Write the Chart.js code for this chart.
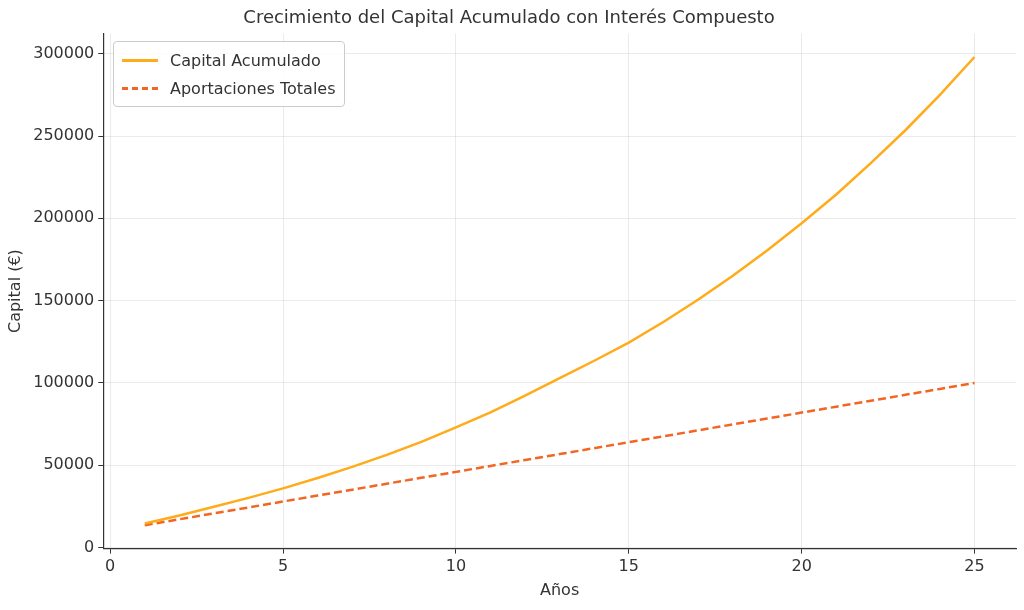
<!DOCTYPE html>
<html>
<head>
<meta charset="utf-8">
<script src="https://cdn.jsdelivr.net/npm/chart.js@4"></script>
<style>
  html, body { margin: 0; padding: 0; background: #fff; }
  #wrap { width: 1024px; height: 610px; position: relative; }
  #legend {
    position: absolute; left: 113px; top: 41px; padding: 4px 8px 4px 8px;
    border: 1px solid #ccc; border-radius: 4px; background: rgba(255,255,255,0.85);
    font: 16px "DejaVu Sans", sans-serif; color: #333;
  }
  .row { display: flex; align-items: center; height: 28px; }
  .sw { width: 36px; height: 0; margin-right: 12px; border-top: 3px solid; }
</style>
</head>
<body>
<div id="wrap">
  <canvas id="chart" width="1024" height="610"></canvas>
  <div id="legend">
    <div class="row"><span class="sw" style="border-color:#ffab1a"></span>Capital Acumulado</div>
    <div class="row"><span class="sw" style="border-color:#f26522;border-top-style:dashed"></span>Aportaciones Totales</div>
  </div>
</div>
<script>
const years = [1,2,3,4,5,6,7,8,9,10,11,12,13,14,15,16,17,18,19,20,21,22,23,24,25];
const capital = [14700,19500,24800,30200,36000,42300,49000,56300,64200,73000,82200,92300,103000,113500,124500,137000,150500,165000,180500,197000,214500,233500,253500,275000,298000];
const aportaciones = [13600,17200,20800,24400,28000,31600,35200,38800,42400,46000,49600,53200,56800,60400,64000,67600,71200,74800,78400,82000,85600,89200,92800,96400,100000];
const xTicks = [0,5,10,15,20,25];
const yTicks = [0,50000,100000,150000,200000,250000,300000];

const font = { family: '"DejaVu Sans", sans-serif', size: 16 };
const grid = { color: 'rgba(0,0,0,0.08)', drawTicks: true, tickLength: 5, tickColor: '#333' };

new Chart(document.getElementById('chart'), {
  type: 'line',
  data: {
    datasets: [
      { label: 'Capital Acumulado', data: years.map((y, i) => ({ x: y, y: capital[i] })),
        borderColor: '#ffab1a', borderWidth: 2.5, pointRadius: 0, tension: 0 },
      { label: 'Aportaciones Totales', data: years.map((y, i) => ({ x: y, y: aportaciones[i] })),
        borderColor: '#f26522', borderWidth: 2.5, borderDash: [8, 4], pointRadius: 0, tension: 0 }
    ]
  },
  options: {
    responsive: false,
    animation: false,
    layout: { padding: { left: 2, right: 8, top: 0, bottom: 6 } },
    plugins: {
      legend: { display: false },
      tooltip: { enabled: false },
      title: { display: true, text: 'Crecimiento del Capital Acumulado con Interés Compuesto',
        color: '#333', font: { family: font.family, size: 18, weight: 'normal' }, padding: { top: 8, bottom: 4 } }
    },
    scales: {
      x: {
        type: 'linear', min: -0.2, max: 26.2,
        afterBuildTicks: axis => { axis.ticks = xTicks.map(v => ({ value: v })); },
        grid: { ...grid, borderDash: [3, 3] },
        border: { color: '#333', width: 1.2 },
        ticks: { color: '#333', font, padding: 4, callback: v => String(v) },
        title: { display: true, text: 'Años', color: '#333', font, padding: { top: 0 } }
      },
      y: {
        min: -600, max: 312200,
        afterBuildTicks: axis => { axis.ticks = yTicks.map(v => ({ value: v })); },
        grid: { ...grid, borderDash: [3, 3] },
        border: { color: '#333', width: 1.2 },
        ticks: { color: '#333', font, padding: 4, callback: v => String(v) },
        title: { display: true, text: 'Capital (€)', color: '#333', font, padding: { bottom: 4 } }
      }
    }
  }
});
</script>
</body>
</html>
